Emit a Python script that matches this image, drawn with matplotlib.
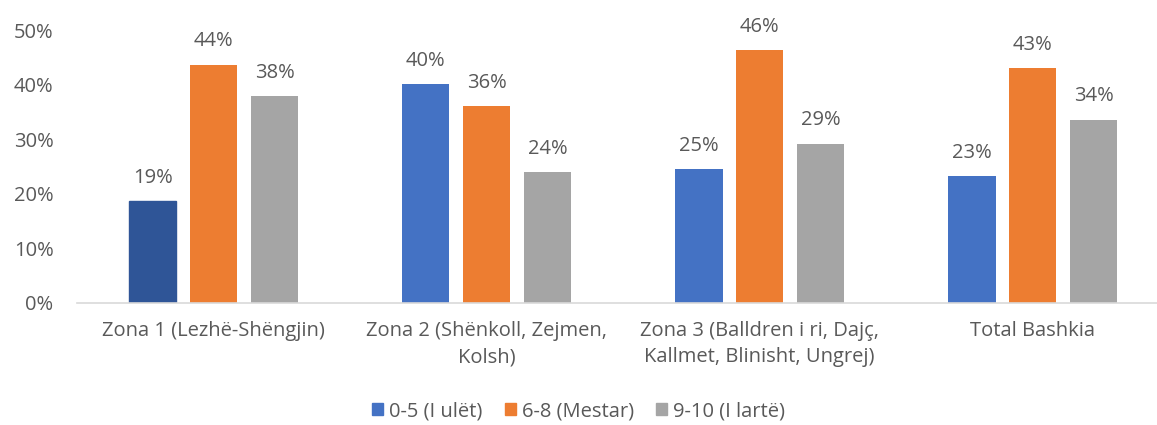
import numpy as np
import matplotlib.pyplot as plt
import matplotlib.patches as mpatches
from matplotlib.ticker import FuncFormatter

# ---------------------------------------------------------------------------
# Data
# ---------------------------------------------------------------------------
categories = [
    "Zona 1 (Lezhë-Shëngjin)",
    "Zona 2 (Shënkoll, Zejmen,\nKolsh)",
    "Zona 3 (Balldren i ri, Dajç,\nKallmet, Blinisht, Ungrej)",
    "Total Bashkia",
]
series_names = ["0-5 (I ulët)", "6-8 (Mestar)", "9-10 (I lartë)"]
low  = [18.6, 40.1, 24.6, 23.3]
mid  = [43.7, 36.0, 46.3, 43.0]
high = [37.9, 23.9, 29.2, 33.6]

C_BLUE  = "#4472C4"
C_DARK  = "#2F5597"
C_ORNG  = "#ED7D31"
C_GRAY  = "#A5A5A5"
C_TEXT  = "#595959"

plt.rcParams["font.family"] = ["Open Sans", "DejaVu Sans"]
FS = 14.5

fig = plt.figure(figsize=(11.57, 4.25), dpi=100, facecolor="white")
ax = fig.add_axes([0.0666, 0.288, 0.944, 0.641])

x = np.arange(len(categories))
step, w = 0.223, 0.174
colors = [C_BLUE, C_ORNG, C_GRAY]
for i, (vals, col, name) in enumerate(zip([low, mid, high], colors, series_names)):
    bars = ax.bar(x + (i - 1) * step, vals, w, color=col, label=name, zorder=2)
    if i == 0:
        bars[0].set_color(C_DARK)
    for b, v in zip(bars, vals):
        ax.annotate(f"{v:.0f}%", (b.get_x() + b.get_width() / 2, v),
                    textcoords="offset points", xytext=(0, 13),
                    ha="center", va="baseline", fontsize=FS, color=C_TEXT)

ax.set_ylim(0, 50)
ax.set_xlim(-0.5, len(categories) - 0.5)
ax.set_yticks(range(0, 51, 10))
ax.yaxis.set_major_formatter(FuncFormatter(lambda v, _: f"{v:.0f}%"))
ax.set_xticks(x)
ax.set_xticklabels(categories, fontsize=FS, color=C_TEXT, linespacing=1.45)
ax.tick_params(axis="y", labelsize=FS, labelcolor=C_TEXT, length=0, pad=17)
ax.tick_params(axis="x", length=0, pad=13)

for side in ["top", "right", "left"]:
    ax.spines[side].set_visible(False)
ax.spines["bottom"].set_color("#D9D9D9")
ax.spines["bottom"].set_linewidth(1.2)

handles = [mpatches.Patch(color=c, label=n) for c, n in zip(colors, series_names)]
fig.legend(handles=handles, loc="center", bbox_to_anchor=(0.5, 0.032), ncol=3,
           frameon=False, fontsize=FS, labelcolor=C_TEXT,
           handlelength=0.55, handleheight=0.55, handletextpad=0.3,
           columnspacing=1.1)

plt.savefig("out.png", dpi=100, facecolor="white")
